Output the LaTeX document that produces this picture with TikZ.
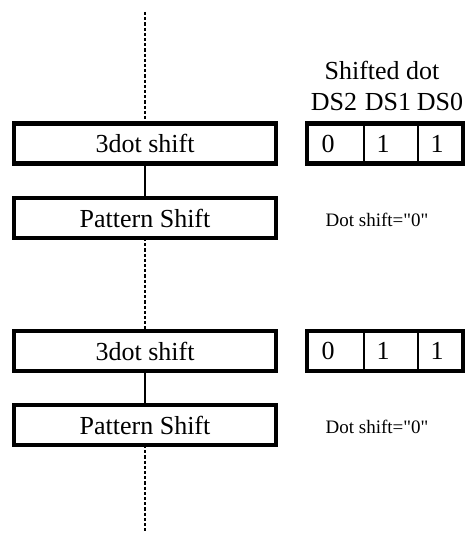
\documentclass[tikz,border=0pt]{standalone}
\usepackage{fontspec}
\setmainfont{Liberation Serif}
\newfontfamily\plainserif{Liberation Serif}
\usetikzlibrary{positioning}

\begin{document}
\begin{tikzpicture}[x=0.5pt,y=-0.5pt,
  stage/.style={draw,line width=2.4pt,outer sep=0pt,minimum width=131pt,minimum height=20pt,inner sep=0pt,font=\fontsize{13}{15}\selectfont},
  reg/.style={draw,line width=2.4pt,outer sep=0pt,minimum width=78pt,minimum height=20pt,inner sep=0pt},
  bit/.style={font=\fontsize{13}{15}\selectfont},
  note/.style={font=\plainserif\fontsize{9.5}{11}\selectfont},
  flow/.style={line width=1.3pt,dash pattern=on 1.6pt off 1pt}]
\useasboundingbox (0,0) rectangle (465,535);

% header of the shift register
\node[bit] (title) at (382,70) {Shifted dot};
\node[bit] (ds2) at (334,102) {DS2};
\node[bit] (ds1) at (388,102) {DS1};
\node[bit] (ds0) at (440,102) {DS0};

% first pass
\node[stage] (shiftA) at (145,143.5) {3dot shift};
\node[stage] (patA) at (145,218) {Pattern Shift};
\node[reg] (regA) at (385,143.5) {};
\draw[line width=0.75pt] ([xshift=28.5pt]regA.north west) -- ([xshift=28.5pt]regA.south west);
\draw[line width=0.75pt] ([xshift=55.5pt]regA.north west) -- ([xshift=55.5pt]regA.south west);
\node[bit] (a2) at (328,143.5) {0};
\node[bit] (a1) at (383,143.5) {1};
\node[bit] (a0) at (437,143.5) {1};
\node[note] (noteA) at (377,220) {Dot shift="0"};

% second pass
\node[stage] (shiftB) at (145,351) {3dot shift};
\node[stage] (patB) at (145,425) {Pattern Shift};
\node[reg] (regB) at (385,351) {};
\draw[line width=0.75pt] ([xshift=28.5pt]regB.north west) -- ([xshift=28.5pt]regB.south west);
\draw[line width=0.75pt] ([xshift=55.5pt]regB.north west) -- ([xshift=55.5pt]regB.south west);
\node[bit] (b2) at (328,351) {0};
\node[bit] (b1) at (383,351) {1};
\node[bit] (b0) at (437,351) {1};
\node[note] (noteB) at (377,427) {Dot shift="0"};

% flow line
\coordinate (top) at (145,12);
\coordinate (bottom) at (145,533);
\draw[flow] (top) -- (shiftA.north);
\draw[line width=0.75pt] (shiftA.south) -- (patA.north);
\draw[flow] (patA.south) -- (shiftB.north);
\draw[line width=0.75pt] (shiftB.south) -- (patB.north);
\draw[flow] (patB.south) -- (bottom);
\end{tikzpicture}
\end{document}
